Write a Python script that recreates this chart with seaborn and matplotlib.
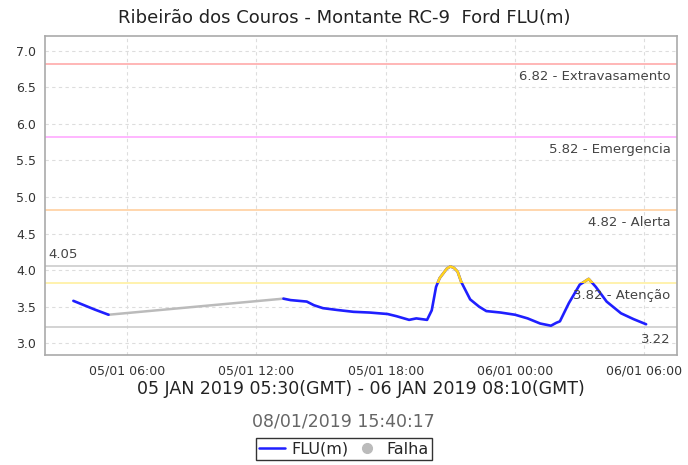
import numpy as np
import pandas as pd
import seaborn as sns
import matplotlib.pyplot as plt
import matplotlib.dates as mdates
from matplotlib.patches import Rectangle
from matplotlib.lines import Line2D
from matplotlib.transforms import blended_transform_factory

# first stretch of readings (before the failure gap)
seg1_times = ["2019-01-05 03:30", "2019-01-05 04:00", "2019-01-05 04:30", "2019-01-05 05:08"]
seg1_vals = [3.58, 3.52, 3.46, 3.39]

# readings after the gap
seg2_times = [
    "2019-01-05 13:15", "2019-01-05 13:35", "2019-01-05 14:20", "2019-01-05 14:40",
    "2019-01-05 15:05", "2019-01-05 15:45", "2019-01-05 16:30", "2019-01-05 17:15",
    "2019-01-05 18:05", "2019-01-05 18:30", "2019-01-05 19:05", "2019-01-05 19:25",
    "2019-01-05 19:55", "2019-01-05 20:08", "2019-01-05 20:20", "2019-01-05 20:30",
    "2019-01-05 20:50", "2019-01-05 21:00", "2019-01-05 21:10", "2019-01-05 21:20",
    "2019-01-05 21:30", "2019-01-05 21:55", "2019-01-05 22:20", "2019-01-05 22:40",
    "2019-01-05 23:20", "2019-01-06 00:00", "2019-01-06 00:35", "2019-01-06 01:10",
    "2019-01-06 01:40", "2019-01-06 01:55", "2019-01-06 02:05", "2019-01-06 02:30",
    "2019-01-06 03:00", "2019-01-06 03:25", "2019-01-06 03:45", "2019-01-06 04:15",
    "2019-01-06 04:55", "2019-01-06 05:30", "2019-01-06 06:05",
]
seg2_vals = [
    3.61, 3.59, 3.57, 3.52,
    3.48, 3.455, 3.43, 3.42,
    3.40, 3.37, 3.32, 3.34,
    3.32, 3.45, 3.77, 3.89,
    4.02, 4.05, 4.03, 3.98,
    3.84, 3.60, 3.50, 3.44,
    3.42, 3.39, 3.34, 3.27,
    3.24, 3.28, 3.30, 3.55,
    3.80, 3.88, 3.77, 3.57,
    3.41, 3.33, 3.26,
]

# reference levels
levels = [6.82, 5.82, 4.82, 3.82]
level_names = ["Extravasamento", "Emergencia", "Alerta", "Atenção"]
level_colors = ["#ffaaaa", "#ffaaff", "#ffd0a0", "#fff0a0"]
max_val = 4.05
min_val = 3.22

df1 = pd.DataFrame({"t": pd.to_datetime(seg1_times), "v": seg1_vals})
df2 = pd.DataFrame({"t": pd.to_datetime(seg2_times), "v": seg2_vals})
gap = pd.DataFrame({"t": [df1.t.iloc[-1], df2.t.iloc[0]], "v": [df1.v.iloc[-1], df2.v.iloc[0]]})

sns.set_style("white")
fig = plt.figure(figsize=(6.88, 4.65), dpi=100)
ax = fig.add_axes([0.0654, 0.2366, 0.9186, 0.686])
mixed = blended_transform_factory(ax.transAxes, ax.transData)

# grid
ax.grid(True, color="#dddddd", linestyle=(0, (3, 3)), linewidth=0.8)

# levels
for lv, name, c in zip(levels, level_names, level_colors):
    ax.axhline(lv, color=c, lw=1.2, zorder=2)
    ax.text(0.99, lv - 0.08, f"{lv:.2f} - {name}", transform=mixed,
            ha="right", va="top", fontsize=9.5, color="#444444", zorder=5)
ax.axhline(max_val, color="#cccccc", lw=1.2, zorder=2)
ax.axhline(min_val, color="#cccccc", lw=1.2, zorder=2)
ax.text(0.006, max_val + 0.08, f"{max_val:.2f}", transform=mixed,
        ha="left", va="bottom", fontsize=9.5, color="#444444")
ax.text(0.99, min_val - 0.08, f"{min_val:.2f}", transform=mixed,
        ha="right", va="top", fontsize=9.5, color="#444444")

# data
sns.lineplot(data=gap, x="t", y="v", ax=ax, color="#bbbbbb", lw=1.8, zorder=3)
sns.lineplot(data=df1, x="t", y="v", ax=ax, color="#1f1fff", lw=1.9, zorder=4)
sns.lineplot(data=df2, x="t", y="v", ax=ax, color="#1f1fff", lw=1.9, zorder=4)
yellow = sns.lineplot(data=df2, x="t", y="v", ax=ax, color="#ffd21f", lw=1.9, zorder=4).lines[-1]
clip = Rectangle((0, levels[3]), 1, 10, transform=mixed)
yellow.set_clip_path(clip)

ax.set_ylim(2.84, 7.2)
ax.set_yticks(np.arange(3.0, 7.01, 0.5))
ax.set_xlim(pd.Timestamp("2019-01-05 02:11"), pd.Timestamp("2019-01-06 07:31"))
ax.xaxis.set_major_locator(mdates.HourLocator(byhour=[0, 6, 12, 18]))
ax.xaxis.set_major_formatter(mdates.DateFormatter("%d/%m %H:%M"))
ax.tick_params(axis="both", labelsize=9, colors="#333333", length=3, width=0.8, color="#999999")
ax.tick_params(axis="both", which="both", direction="out")
for s in ax.spines.values():
    s.set_color("#aaaaaa")
    s.set_linewidth(1.2)

ax.set_ylabel("")
ax.set_xlabel("05 JAN 2019 05:30(GMT) - 06 JAN 2019 08:10(GMT)", fontsize=12.5, color="#222222", labelpad=2)
fig.text(0.5, 0.961, "Ribeirão dos Couros - Montante RC-9  Ford FLU(m)", ha="center", va="center",
         fontsize=13, color="#222222")

fig.text(0.4985, 0.093, "08/01/2019 15:40:17", ha="center", va="center", fontsize=12.5, color="#666666")

handles = [Line2D([], [], color="#1f1fff", lw=1.8),
           Line2D([], [], color="#bbbbbb", marker="o", lw=0, markersize=7)]
leg = fig.legend(handles, ["FLU(m)", "Falha"], loc="center", bbox_to_anchor=(0.5, 0.034), ncol=2,
                 fontsize=11.5, frameon=True, fancybox=False, handlelength=1.6, handletextpad=0.4,
                 columnspacing=0.4, borderpad=0.2, borderaxespad=0)
leg.get_frame().set_edgecolor("black")
leg.get_frame().set_linewidth(1.0)

fig.savefig("out.png", dpi=100)
